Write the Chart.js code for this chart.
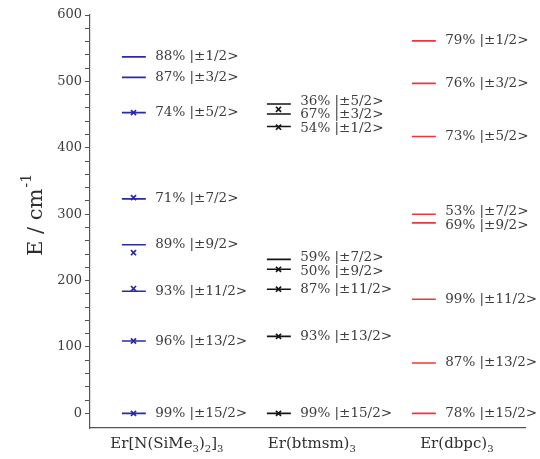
<!DOCTYPE html>
<html>
<head>
<meta charset="utf-8">
<script src="https://cdn.jsdelivr.net/npm/chart.js@4.4.1/dist/chart.umd.min.js"></script>
<style>
  html, body { margin: 0; padding: 0; background: #ffffff; }
  #wrap { width: 540px; height: 459px; }
</style>
</head>
<body>
<div id="wrap"><canvas id="levels" width="540" height="459"></canvas></div>
<script>
// Compounds (digits are typeset as subscripts)
const compounds = ['Er[N(SiMe3)2]3', 'Er(btmsm)3', 'Er(dbpc)3'];
// Kramers doublets, listed |±1/2> ... |±15/2>
const states = ['±1/2', '±3/2', '±5/2', '±7/2', '±9/2', '±11/2', '±13/2', '±15/2'];

// Calculated doublet energies (cm-1) and main-component weights (%)
const energyA = [537, 506, 453, 323, 254, 184, 109, 0];
const weightA = [88, 87, 74, 71, 89, 93, 96, 99];
const energyB = [432, 451, 466, 232, 217, 187, 116, 0];
const weightB = [54, 67, 36, 59, 50, 87, 93, 99];
const energyC = [561, 497, 417, 300, 287, 172, 76, 0];
const weightC = [79, 76, 73, 53, 69, 99, 87, 78];

// Experimental levels (cm-1), drawn as crosses
const exptA = [453, 325, 242, 188, 109, 0];
const exptB = [458, 431, 217, 187, 116, 0];

const colors = ['#2a2aa8', '#151515', '#e8383d'];
const serif = "'DejaVu Serif', serif";
const textColor = '#3c3c3c';

const columns = [
  { energy: energyA, weight: weightA, expt: exptA },
  { energy: energyB, weight: weightB, expt: exptB },
  { energy: energyC, weight: weightC, expt: null }
];

// Each doublet is a short horizontal segment; null points break the line between them
function segmentData(col, energies) {
  const pts = [];
  energies.forEach(e => {
    pts.push({ x: col + 0.22, y: e });
    pts.push({ x: col + 0.385, y: e });
    pts.push({ x: col + 0.3, y: null });
  });
  return pts;
}

const datasets = [];
columns.forEach((c, i) => {
  datasets.push({
    data: segmentData(i, c.energy),
    showLine: true,
    spanGaps: false,
    borderColor: colors[i],
    borderWidth: 1.6,
    pointRadius: 0,
    columnIndex: i,
    isLevels: true
  });
  if (c.expt) {
    datasets.push({
      data: c.expt.map(e => ({ x: i + 0.3, y: e })),
      showLine: false,
      pointStyle: 'crossRot',
      pointRadius: 3.6,
      borderColor: colors[i],
      backgroundColor: colors[i],
      pointBorderWidth: 1.7
    });
  }
});

// Draws a string where every digit is lowered as a subscript
function drawSubscripted(ctx, str, cx, y, size) {
  const parts = [];
  let buf = '', sub = false;
  for (const ch of str) {
    const isSub = /[0-9]/.test(ch);
    if (isSub !== sub && buf) { parts.push({ t: buf, sub }); buf = ''; }
    sub = isSub; buf += ch;
  }
  if (buf) parts.push({ t: buf, sub });
  const big = size + "px " + serif, small = Math.round(size * 0.68) + "px " + serif;
  let total = 0;
  parts.forEach(p => { ctx.font = p.sub ? small : big; p.w = ctx.measureText(p.t).width; total += p.w; });
  let x = cx - total / 2;
  ctx.textAlign = 'left';
  ctx.textBaseline = 'alphabetic';
  parts.forEach(p => {
    ctx.font = p.sub ? small : big;
    ctx.fillText(p.t, x, p.sub ? y + size * 0.28 : y);
    x += p.w;
  });
}

// State labels next to each level, spread apart where levels crowd together
const levelLabels = {
  id: 'levelLabels',
  afterDatasetsDraw(chart) {
    const { ctx, scales: { x, y } } = chart;
    const minGap = 13.5;
    ctx.save();
    ctx.fillStyle = textColor;
    ctx.font = "13.5px " + serif;
    ctx.textAlign = 'left';
    ctx.textBaseline = 'middle';
    columns.forEach((c, i) => {
      const items = c.energy.map((e, k) => ({
        text: c.weight[k] + '% |' + states[k] + '>',
        py: y.getPixelForValue(e)
      })).sort((a, b) => a.py - b.py);
      for (let it = 0; it < 60; it++) {
        for (let k = 1; k < items.length; k++) {
          const gap = items[k].py - items[k - 1].py;
          if (gap < minGap) {
            const d = (minGap - gap) / 2;
            items[k - 1].py -= d;
            items[k].py += d;
          }
        }
      }
      const lx = x.getPixelForValue(i + 0.45);
      items.forEach(it => ctx.fillText(it.text, lx, it.py));
    });
    ctx.restore();
  }
};

// Compound names under the x axis and the rotated energy-axis title
const axisText = {
  id: 'axisText',
  afterDraw(chart) {
    const { ctx, scales: { x }, chartArea } = chart;
    ctx.save();
    ctx.fillStyle = '#2e2e2e';
    compounds.forEach((name, i) => {
      drawSubscripted(ctx, name, x.getPixelForValue(i + 0.53), chartArea.bottom + 20, 15);
    });

    ctx.translate(34, (chartArea.top + chartArea.bottom) / 2 - 6);
    ctx.rotate(-Math.PI / 2);
    ctx.font = "21px " + serif;
    const main = 'E / cm';
    const sup = '-1';
    const wMain = ctx.measureText(main).width;
    ctx.font = "14px " + serif;
    const wSup = ctx.measureText(sup).width;
    const start = -(wMain + wSup) / 2;
    ctx.textAlign = 'left';
    ctx.textBaseline = 'alphabetic';
    ctx.font = "21px " + serif;
    ctx.fillText(main, start, 8);
    ctx.font = "14px " + serif;
    ctx.fillText(sup, start + wMain + 1, -3);
    ctx.restore();
  }
};

new Chart(document.getElementById('levels'), {
  type: 'scatter',
  data: { datasets },
  options: {
    responsive: false,
    animation: false,
    layout: { padding: { top: 15, right: 15, left: 0, bottom: 0 } },
    plugins: { legend: { display: false }, tooltip: { enabled: false } },
    scales: {
      x: {
        type: 'linear',
        min: 0,
        max: 3,
        ticks: { display: false },
        grid: { display: false },
        border: { display: true, color: '#555555', width: 1.2 },
        afterFit(s) { s.height = 31; }
      },
      y: {
        type: 'linear',
        min: -22,
        max: 600,
        afterBuildTicks(s) {
          const t = [];
          for (let v = 0; v <= 600; v += 20) t.push({ value: v });
          s.ticks = t;
        },
        ticks: {
          autoSkip: false,
          color: textColor,
          padding: 3,
          font: { family: serif, size: 13 },
          callback: v => (v % 100 === 0 ? String(v) : '')
        },
        grid: {
          drawOnChartArea: false,
          drawTicks: true,
          tickLength: 5,
          color: '#555555',
          lineWidth: 1
        },
        border: { display: true, color: '#555555', width: 1.2 },
        afterFit(s) { s.width = 90; }
      }
    }
  },
  plugins: [levelLabels, axisText]
});
</script>
</body>
</html>
